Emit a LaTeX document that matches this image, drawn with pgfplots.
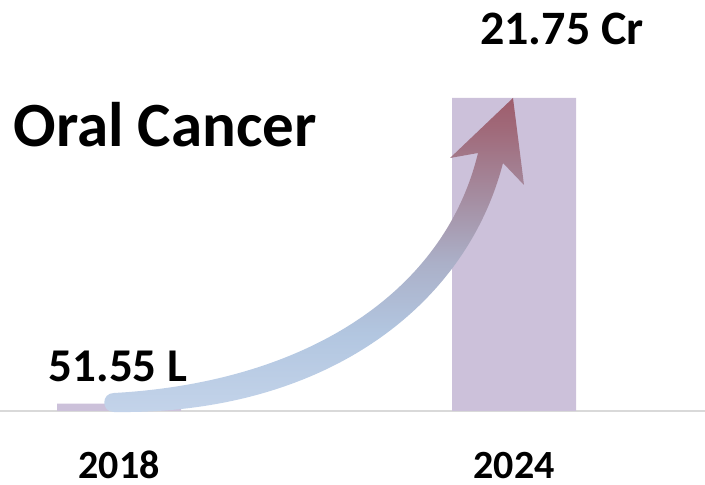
\documentclass[border=0pt]{standalone}
\usepackage{fontspec}
\setmainfont{Carlito}
\usepackage{pgfplots}
\pgfplotsset{compat=1.18}
\definecolor{barc}{RGB}{204,193,218}
\definecolor{basec}{RGB}{217,217,217}
\definecolor{c1}{RGB}{196,212,234}
\definecolor{c2}{RGB}{178,198,224}
\definecolor{c3}{RGB}{171,176,200}
\definecolor{c4}{RGB}{165,142,162}
\definecolor{c5}{RGB}{160,106,122}
\definecolor{c6}{RGB}{158,93,108}
\pgfdeclareverticalshading{arrowshade}{100bp}{color(0bp)=(c1); color(25bp)=(c1); color(38bp)=(c2); color(49bp)=(c3); color(59bp)=(c4); color(70bp)=(c5); color(75bp)=(c6); color(100bp)=(c6)}
\begin{document}
\begin{tikzpicture}
\path[use as bounding box] (0,0) rectangle (705pt,485pt);
\begin{axis}[
  at={(0pt,74pt)}, anchor=south west,
  scale only axis, width=705pt, height=411pt,
  xmin=-0.3013, xmax=1.4835, ymin=0, ymax=28.56,
  axis y line=none, axis x line=bottom,
  x axis line style={draw=basec, line width=1.5pt, -},
  xtick={0,1}, xticklabels={2018,2024},
  major tick length=0pt,
  xticklabel style={font=\bfseries\fontsize{40}{40}\selectfont, anchor=base, inner sep=0pt, yshift=-68pt},
  ybar, bar width=124pt, clip=false,
]
\addplot[fill=barc, draw=none] coordinates {(0,0.5155) (1,21.75)};
\end{axis}
\begin{scope}[x=1pt, y=-1pt, shift={(0pt,485pt)}]
\shade[shading=arrowshade] (114,412) .. controls (101,412) and (101,393) .. (114,393)
  .. controls (310,382) and (445,290) .. (478,153) -- (450,158) -- (513,98) -- (524,185) -- (503,163)
  .. controls (465,310) and (320,415) .. (114,412) -- cycle;
\node[font=\bfseries\fontsize{63}{63}\selectfont, anchor=base, inner sep=0pt] at (165,147) {Oral Cancer};
\node[font=\bfseries\fontsize{47}{47}\selectfont, anchor=base, inner sep=0pt] at (118,382) {51.55 L};
\node[font=\bfseries\fontsize{48}{48}\selectfont, anchor=base, inner sep=0pt] at (562,45) {21.75 Cr};
\end{scope}
\end{tikzpicture}
\end{document}
